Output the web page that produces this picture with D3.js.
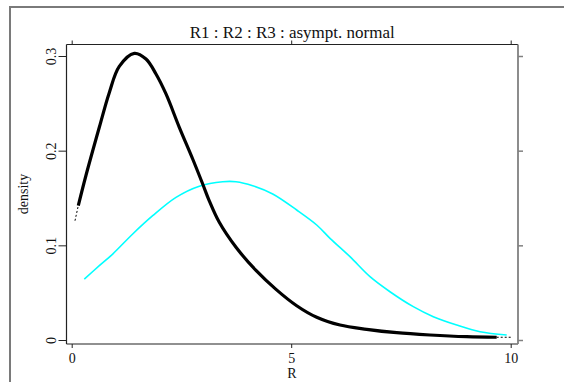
<!DOCTYPE html>
<html>
<head>
<meta charset="utf-8">
<script src="https://cdn.jsdelivr.net/npm/d3@7"></script>
<style>
  body { margin: 0; background: #fff; }
  svg text { font-family: "Liberation Serif", "DejaVu Serif", serif; fill: #111; }
</style>
</head>
<body>
<div id="chart"></div>
<script>
// R1 density curve (thick black)
var r1X = [0.15, 0.326, 0.629, 0.856, 1.084, 1.426, 1.692, 1.92, 2.148, 2.451, 2.756, 2.984, 3.134, 3.362, 3.743, 4.198, 4.654, 5.125, 5.581, 6.112, 6.72, 7.403, 8.162, 8.998, 9.681];
var r1Y = [0.1419, 0.174, 0.2247, 0.2613, 0.289, 0.3028, 0.2968, 0.281, 0.2599, 0.2247, 0.1912, 0.1648, 0.147, 0.1243, 0.0979, 0.0735, 0.0535, 0.0362, 0.024, 0.0158, 0.0113, 0.0077, 0.0053, 0.0035, 0.0029];
// dotted tails of the black curve
var tailLowX = [0.075, 0.15];
var tailLowY = [0.126, 0.1419];
var tailHighX = [9.681, 10.02];
var tailHighY = [0.0029, 0.0029];
// asymptotic normal (cyan)
var normX = [0.287, 0.629, 0.934, 1.39, 1.845, 2.376, 2.907, 3.44, 3.743, 4.123, 4.579, 5.125, 5.581, 5.884, 6.339, 6.795, 7.25, 7.781, 8.237, 8.77, 9.301, 9.909];
var normY = [0.0644, 0.0785, 0.0908, 0.112, 0.1313, 0.1507, 0.1625, 0.1672, 0.1672, 0.163, 0.1542, 0.1373, 0.1215, 0.1074, 0.088, 0.0669, 0.051, 0.0352, 0.0246, 0.0158, 0.0088, 0.0053];

var xTicks = [0, 5, 10];
var yTicks = [0, 0.1, 0.2, 0.3];

var width = 564, height = 382;
var box = { left: 66.5, right: 518, top: 44.5, bottom: 344 };

var svg = d3.select("#chart").append("svg")
  .attr("width", width)
  .attr("height", height);

// outer frame (only top and left visible)
svg.append("path")
  .attr("d", "M10," + (height + 5) + "V7H" + (width + 5))
  .attr("fill", "none")
  .attr("stroke", "#7a7a7a")
  .attr("stroke-width", 2);

var x = d3.scaleLinear().domain([0, 10]).range([71.7, 510.7]);
var y = d3.scaleLinear().domain([0, 0.3]).range([340, 56]);

// plot box
svg.append("line").attr("x1", box.left).attr("x2", box.right).attr("y1", box.top).attr("y2", box.top)
  .attr("stroke", "#222").attr("stroke-width", 1.2);
svg.append("line").attr("x1", box.left).attr("x2", box.right).attr("y1", box.bottom).attr("y2", box.bottom)
  .attr("stroke", "#222").attr("stroke-width", 1.2);
svg.append("line").attr("x1", box.left).attr("x2", box.left).attr("y1", box.top).attr("y2", box.bottom)
  .attr("stroke", "#222").attr("stroke-width", 1.2);
svg.append("line").attr("x1", box.right).attr("x2", box.right).attr("y1", box.top).attr("y2", box.bottom)
  .attr("stroke", "#808080").attr("stroke-width", 1.8);

// bottom axis
var xb = svg.append("g").attr("transform", "translate(0," + box.bottom + ")")
  .call(d3.axisBottom(x).tickValues(xTicks).tickSize(4).tickPadding(5).tickFormat(d3.format("d")));
xb.select(".domain").remove();
xb.selectAll("line").attr("stroke", "#222");
xb.selectAll("text").attr("font-size", 14).attr("fill", "#111");

// top axis ticks
var xt = svg.append("g").attr("transform", "translate(0," + box.top + ")")
  .call(d3.axisTop(x).tickValues(xTicks).tickSize(4).tickFormat(""));
xt.select(".domain").remove();
xt.selectAll("line").attr("stroke", "#222");

// left axis
var yl = svg.append("g").attr("transform", "translate(" + box.left + ",0)")
  .call(d3.axisLeft(y).tickValues(yTicks).tickSize(8).tickFormat(function (d) { return d === 0 ? "0" : d3.format(".1f")(d); }));
yl.select(".domain").remove();
yl.selectAll("line").attr("stroke", "#222");
yl.selectAll("text")
  .attr("font-size", 14)
  .attr("fill", "#111")
  .attr("text-anchor", "middle")
  .attr("x", 0).attr("dy", 0)
  .attr("transform", "translate(-11,0) rotate(-90)");

// right axis ticks
var yr = svg.append("g").attr("transform", "translate(" + box.right + ",0)")
  .call(d3.axisRight(y).tickValues(yTicks).tickSize(5).tickFormat(""));
yr.select(".domain").remove();
yr.selectAll("line").attr("stroke", "#808080").attr("stroke-width", 1.5);

// titles
svg.append("text")
  .attr("x", (box.left + box.right) / 2).attr("y", 38)
  .attr("text-anchor", "middle").attr("font-size", 17)
  .text("R1 : R2 : R3 : asympt. normal");
svg.append("text")
  .attr("x", 292).attr("y", 378)
  .attr("text-anchor", "middle").attr("font-size", 14)
  .text("R");
svg.append("text")
  .attr("transform", "translate(28,194) rotate(-90)")
  .attr("text-anchor", "middle").attr("font-size", 14)
  .text("density");

var line = d3.line()
  .x(function (d) { return x(d[0]); })
  .y(function (d) { return y(d[1]); })
  .curve(d3.curveCatmullRom);

var zip = function (a, b) { return a.map(function (v, i) { return [v, b[i]]; }); };

svg.append("path")
  .datum(zip(normX, normY))
  .attr("fill", "none")
  .attr("stroke", "#00ffff")
  .attr("stroke-width", 1.6)
  .attr("d", line);

svg.append("path")
  .datum(zip(r1X, r1Y))
  .attr("fill", "none")
  .attr("stroke", "#000")
  .attr("stroke-width", 3.2)
  .attr("stroke-linejoin", "round")
  .attr("d", line);

[zip(tailLowX, tailLowY), zip(tailHighX, tailHighY)].forEach(function (t) {
  svg.append("path")
    .datum(t)
    .attr("fill", "none")
    .attr("stroke", "#000")
    .attr("stroke-width", 1)
    .attr("stroke-dasharray", "2,2")
    .attr("d", line);
});
</script>
</body>
</html>
